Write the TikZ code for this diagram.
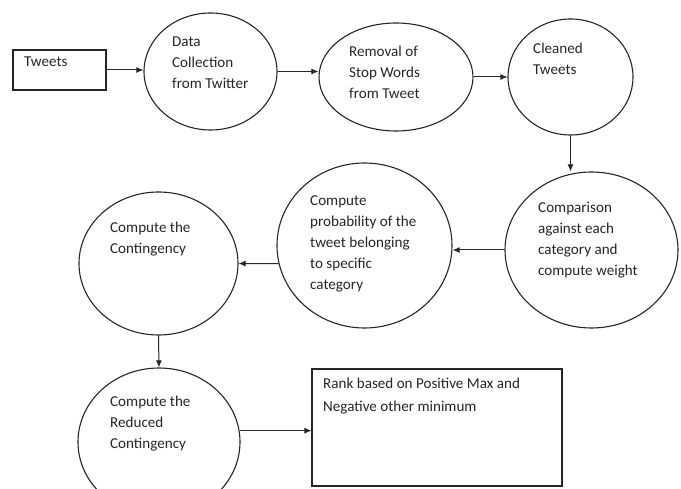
\documentclass[tikz,border=0pt]{standalone}
\usepackage{fontspec}
\setmainfont{Carlito}
\usetikzlibrary{shapes.geometric,arrows.meta}
\tikzset{
  oval/.style={ellipse,draw=black!85,line width=1.1pt,inner sep=0pt},
  boxnode/.style={rectangle,draw=black!85,line width=1.1pt,inner sep=0pt},
  lbl/.style={anchor=north west,inner sep=0pt,align=left,text=black!85,
     font=\fontsize{15.1}{21}\selectfont},
  arr/.style={draw=black!85,line width=1pt,-{Latex[length=7pt,width=6pt]}}
}
\begin{document}
\begin{tikzpicture}[x=1pt,y=-1pt]
\clip (0,0) rectangle (681,489);
\fill[white] (0,0) rectangle (681,489);
% shapes
\node[boxnode,minimum width=93pt,minimum height=40pt] (tw) at (59.5,70) {};
\node[oval,minimum width=133pt,minimum height=117pt] (dc) at (210.5,71.5) {};
\node[oval,minimum width=154pt,minimum height=108pt] (rm) at (396,77) {};
\node[oval,minimum width=125pt,minimum height=116pt] (cl) at (570.5,77) {};
\node[oval,minimum width=173pt,minimum height=156pt] (cp) at (591.5,250) {};
\node[oval,minimum width=175pt,minimum height=165pt] (pr) at (364.5,245.5) {};
\node[oval,minimum width=159pt,minimum height=143pt] (ct) at (158.5,263.5) {};
\node[oval,minimum width=162pt,minimum height=148pt] (rd) at (159,442) {};
\node[boxnode,minimum width=250pt,minimum height=117pt] (rk) at (437,427.5) {};
% labels
\node[lbl] (twl) at (24,57) {Tweets};
\node[lbl] (dcl) at (172,37) {Data\\Collection\\from Twitter};
\node[lbl] (rml) at (349,46) {Removal of\\Stop Words\\from Tweet};
\node[lbl] (cll) at (533,43) {Cleaned\\Tweets};
\node[lbl] (cpl) at (538,202) {Comparison\\against each\\category and\\compute weight};
\node[lbl] (prl) at (310,196) {Compute\\probability of the\\tweet belonging\\to specific\\category};
\node[lbl] (ctl) at (110,222) {Compute the\\Contingency};
\node[lbl] (rdl) at (110,396) {Compute the\\Reduced\\Contingency};
\node[lbl,font=\fontsize{15.1}{23}\selectfont] (rkl) at (323,378) {Rank based on Positive Max and\\Negative other minimum};
% connectors
\draw[arr] (tw.east) -- (tw.east -| dc.west);
\draw[arr] (dc.east) -- (dc.east -| rm.west);
\draw[arr] (rm.east) -- (cl.west);
\draw[arr] (cl.south) -- (cl.south |- cp.north);
\draw[arr] (cp.west) -- (cp.west -| pr.east);
\draw[arr] (pr.192) -- (ct.east);
\draw[arr] (ct.south) -- (rd.north);
\draw[arr] (rd.8) -- (rd.8 -| rk.west);
\end{tikzpicture}
\end{document}
